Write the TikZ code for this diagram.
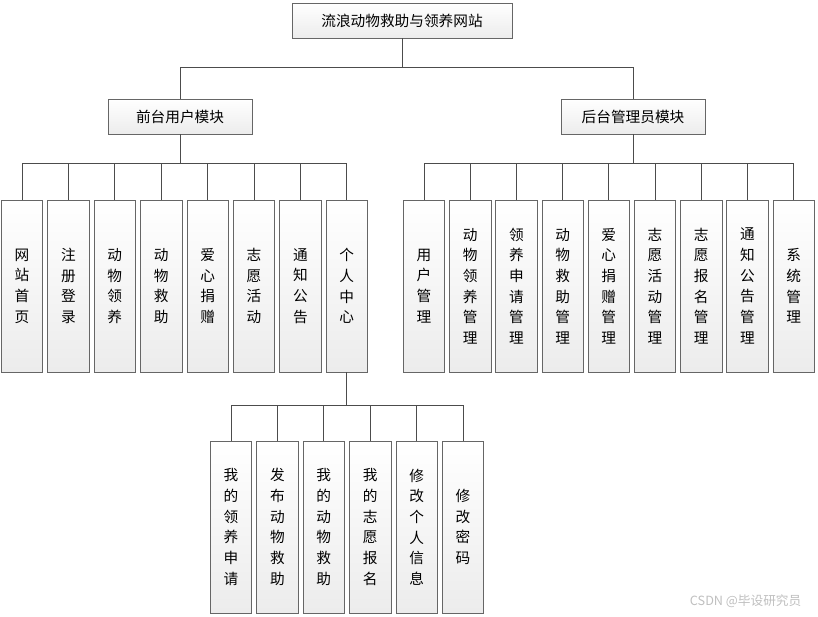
\documentclass[tikz,border=0pt]{standalone}
\usepackage{fontspec}
\newfontfamily\cjk{Noto Sans CJK SC}
\usetikzlibrary{positioning}
\tikzset{
  box/.style={draw=gray!80!black, top color=white, bottom color=gray!15, font=\cjk\fontsize{11}{12}\selectfont, inner sep=0pt},
  wide/.style={box, minimum width=108pt, minimum height=26pt},
  tall/.style={box, minimum width=31pt, minimum height=129pt, align=center, font=\cjk\fontsize{11}{15.5}\selectfont},
  link/.style={draw=gray!60!black, line width=0.6pt}
}
\begin{document}
\begin{tikzpicture}[x=0.75pt, y=-0.75pt]
    \useasboundingbox (0,0) rectangle (818,617);
    \node[box, minimum width=165pt, minimum height=26pt] (root) at (402, 20.5) {流浪动物救助与领养网站};
    \node[wide] (front) at (180, 116.5) {前台用户模块};
    \node[wide] (back) at (633, 116.5) {后台管理员模块};

    % front modules
    \foreach \lbl [count=\i] in {网\\站\\首\\页, 注\\册\\登\\录, 动\\物\\领\\养, 动\\物\\救\\助,
                                 爱\\心\\捐\\赠, 志\\愿\\活\\动, 通\\知\\公\\告, 个\\人\\中\\心}
        \node[tall] (f\i) at ({22+46.4*(\i-1)}, 286) {\lbl};

    % back modules
    \foreach \lbl [count=\i] in {用\\户\\管\\理, 动\\物\\领\\养\\管\\理, 领\\养\\申\\请\\管\\理,
                                 动\\物\\救\\助\\管\\理, 爱\\心\\捐\\赠\\管\\理, 志\\愿\\活\\动\\管\\理,
                                 志\\愿\\报\\名\\管\\理, 通\\知\\公\\告\\管\\理, 系\\统\\管\\理}
        \node[tall] (b\i) at ({424+46.2*(\i-1)}, 286) {\lbl};

    % personal centre
    \foreach \lbl [count=\i] in {我\\的\\领\\养\\申\\请, 发\\布\\动\\物\\救\\助, 我\\的\\动\\物\\救\\助,
                                 我\\的\\志\\愿\\报\\名, 修\\改\\个\\人\\信\\息, 修\\改\\密\\码}
        \node[tall] (p\i) at ({231+46.4*(\i-1)}, 527) {\lbl};

    \draw[link] (root.south) -- ++(0,29) -| (front.north);
    \draw[link] (root.south) -- ++(0,29) -| (back.north);
    \foreach \i in {1,...,8}
        \draw[link] (front.south) -- ++(0,29) -| (f\i.north);
    \foreach \i in {1,...,9}
        \draw[link] (back.south) -- ++(0,29) -| (b\i.north);
    \foreach \i in {1,...,6}
        \draw[link] (f8.south) -- ++(0,33) -| (p\i.north);

    \node[font=\cjk\fontsize{9.5}{10}\selectfont, text=gray!50, anchor=east] (mark) at (806, 601) {CSDN @毕设研究员};
\end{tikzpicture}
\end{document}
